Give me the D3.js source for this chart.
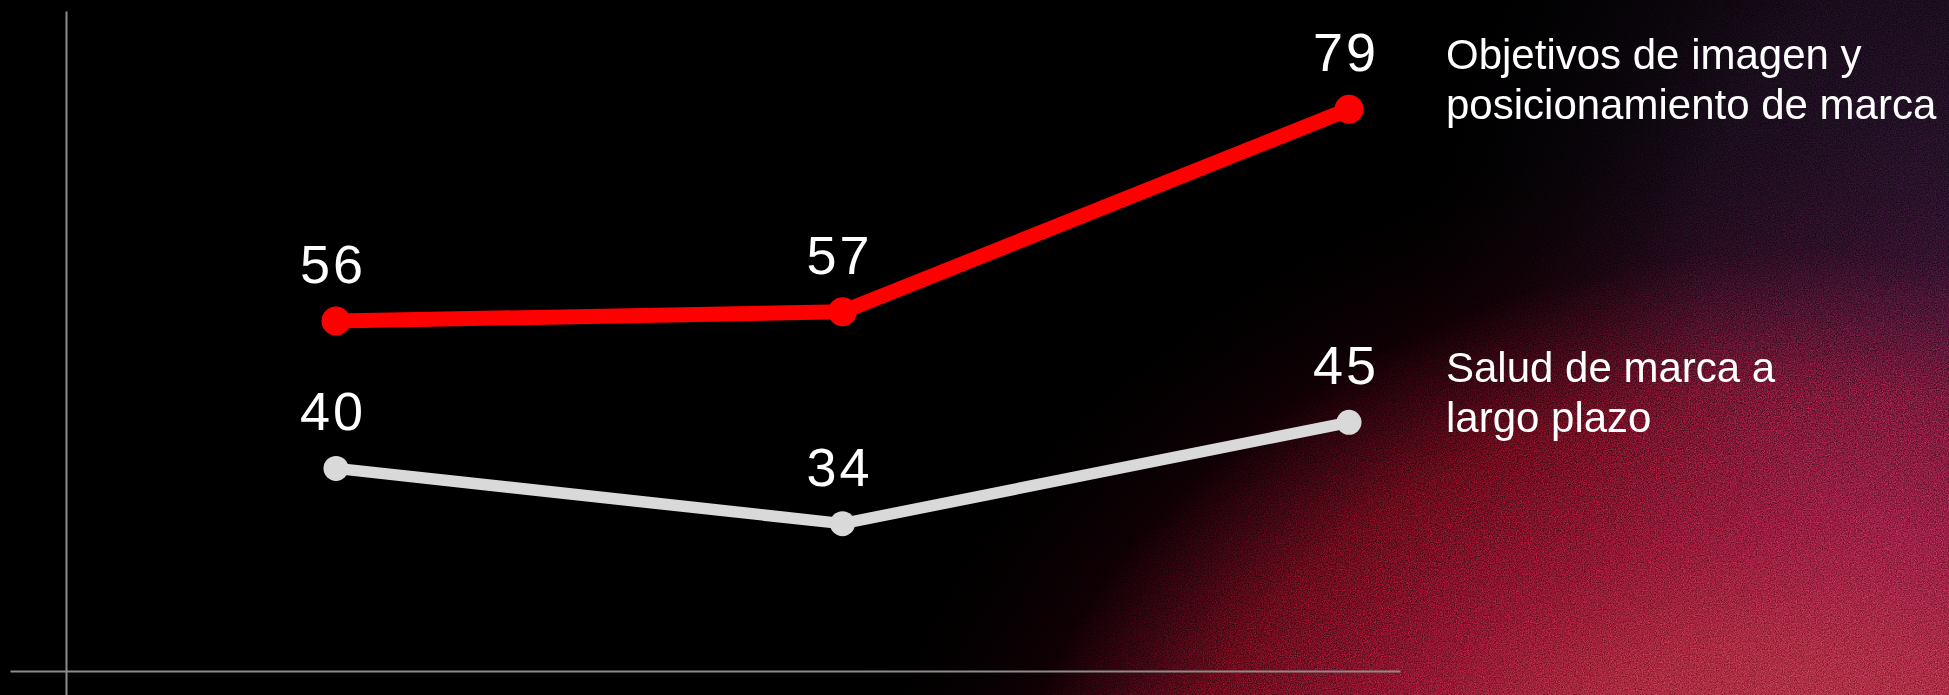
<!DOCTYPE html>
<html>
<head>
<meta charset="utf-8">
<script src="https://cdn.jsdelivr.net/npm/d3@7"></script>
<style>
  html, body { margin: 0; padding: 0; background: #000; overflow: hidden; }
  svg { display: block; }
  text { font-family: "Liberation Sans", Arial, Helvetica, sans-serif; fill: #fff; }
</style>
</head>
<body>
<svg id="chart" width="1949" height="695"></svg>
<script>
// Survey waves (positions along the x axis)
const periods = ["t1", "t2", "t3"];

// Share of respondents (%) per series
const brandImage = [56, 57, 79];
const brandHealth = [40, 34, 45];

// Series labels, one entry per text line
const brandImageLabel = ["Objetivos de imagen y", "posicionamiento de marca"];
const brandHealthLabel = ["Salud de marca a", "largo plazo"];

const series = [
  { values: brandImage, label: brandImageLabel, color: "#ff0000", width: 15, r: 14.5 },
  { values: brandHealth, label: brandHealthLabel, color: "#d9d9d9", width: 11.5, r: 12.5 }
];

const W = 1949, H = 695;
const svg = d3.select("#chart");
const defs = svg.append("defs");

// ---- background glow ----
svg.append("rect").attr("width", W).attr("height", H).attr("fill", "#000");

function radial(id, cx, cy, r, sy, stops) {
  const g = defs.append("radialGradient")
    .attr("id", id)
    .attr("gradientUnits", "userSpaceOnUse")
    .attr("cx", cx).attr("cy", cy).attr("r", r)
    .attr("gradientTransform", `translate(${cx},${cy}) scale(1,${sy}) translate(${-cx},${-cy})`);
  stops.forEach(([o, c, a]) => g.append("stop").attr("offset", o).attr("stop-color", c).attr("stop-opacity", a));
}

radial("redGlow", 1800, 950, 1000, 0.85, [
  [0, "#c04a58", 1], [0.36, "#aa2a40", 1], [0.5, "#921632", 1], [0.66, "#6c0c1c", 1],
  [0.74, "#3c0612", 1], [0.82, "#100004", 1], [1, "#000000", 0]
]);
radial("purpleGlow", 2000, 250, 600, 1, [
  [0, "#2c1430", 1], [0.5, "#1a0c1c", 1], [1, "#000000", 0]
]);

svg.append("rect").attr("width", W).attr("height", H).attr("fill", "url(#redGlow)");
svg.append("rect").attr("width", W).attr("height", H).attr("fill", "url(#purpleGlow)")
  .style("mix-blend-mode", "screen");

// film grain over the glow
const grain = defs.append("filter").attr("id", "grain")
  .attr("x", 0).attr("y", 0).attr("width", "100%").attr("height", "100%")
  .attr("color-interpolation-filters", "sRGB");
grain.append("feTurbulence").attr("type", "fractalNoise")
  .attr("baseFrequency", 0.85).attr("numOctaves", 2).attr("seed", 7).attr("result", "n");
grain.append("feColorMatrix").attr("type", "matrix")
  .attr("values", "0.33 0.33 0.33 0 0  0.33 0.33 0.33 0 0  0.33 0.33 0.33 0 0  0 0 0 0 1");
const ct = grain.append("feComponentTransfer");
["feFuncR", "feFuncG", "feFuncB"].forEach(f =>
  ct.append(f).attr("type", "linear").attr("slope", 3.2).attr("intercept", -1.1));
svg.append("rect").attr("width", W).attr("height", H)
  .attr("filter", "url(#grain)")
  .style("mix-blend-mode", "overlay")
  .attr("opacity", 0.5);

// ---- scales ----
const x = d3.scalePoint().domain(periods).range([336, 1349]);
const y = d3.scaleLinear().domain([18, 80]).range([671, 100]);

// ---- axes (bare lines, no ticks) ----
const axisColor = "#8c8c8c";
const xAxis = svg.append("g").attr("transform", `translate(0,${y(18)})`)
  .call(d3.axisBottom(d3.scaleLinear().range([10, 1400])).ticks(0).tickSizeOuter(0));
const yAxis = svg.append("g").attr("transform", "translate(66,0)")
  .call(d3.axisLeft(d3.scaleLinear().range([11, H])).ticks(0).tickSizeOuter(0));
[xAxis, yAxis].forEach(g => g.select(".domain").attr("stroke", axisColor).attr("stroke-width", 2));

// ---- lines, markers, labels ----
const line = d3.line().x((d, i) => x(periods[i])).y(d => y(d));

series.forEach(s => {
  const g = svg.append("g");
  g.append("path")
    .datum(s.values)
    .attr("d", line)
    .attr("fill", "none")
    .attr("stroke", s.color)
    .attr("stroke-width", s.width)
    .attr("stroke-linejoin", "round")
    .attr("stroke-linecap", "round");

  g.selectAll("circle").data(s.values).join("circle")
    .attr("cx", (d, i) => x(periods[i]))
    .attr("cy", d => y(d))
    .attr("r", s.r)
    .attr("fill", s.color);

  g.selectAll("text.value").data(s.values).join("text")
    .attr("class", "value")
    .attr("x", (d, i) => x(periods[i]) - 3)
    .attr("y", d => y(d) - 38)
    .attr("text-anchor", "middle")
    .attr("font-size", 54)
    .attr("letter-spacing", 3)
    .text(d => d);

  const last = s.values[s.values.length - 1];
  const lx = x(periods[periods.length - 1]) + 97;
  const lbl = g.append("text")
    .attr("x", lx)
    .attr("y", y(last) - 40)
    .attr("font-size", 42);
  lbl.selectAll("tspan").data(s.label).join("tspan")
    .attr("x", lx)
    .attr("dy", (d, i) => i === 0 ? 0 : 50)
    .text(d => d);
});
</script>
</body>
</html>
